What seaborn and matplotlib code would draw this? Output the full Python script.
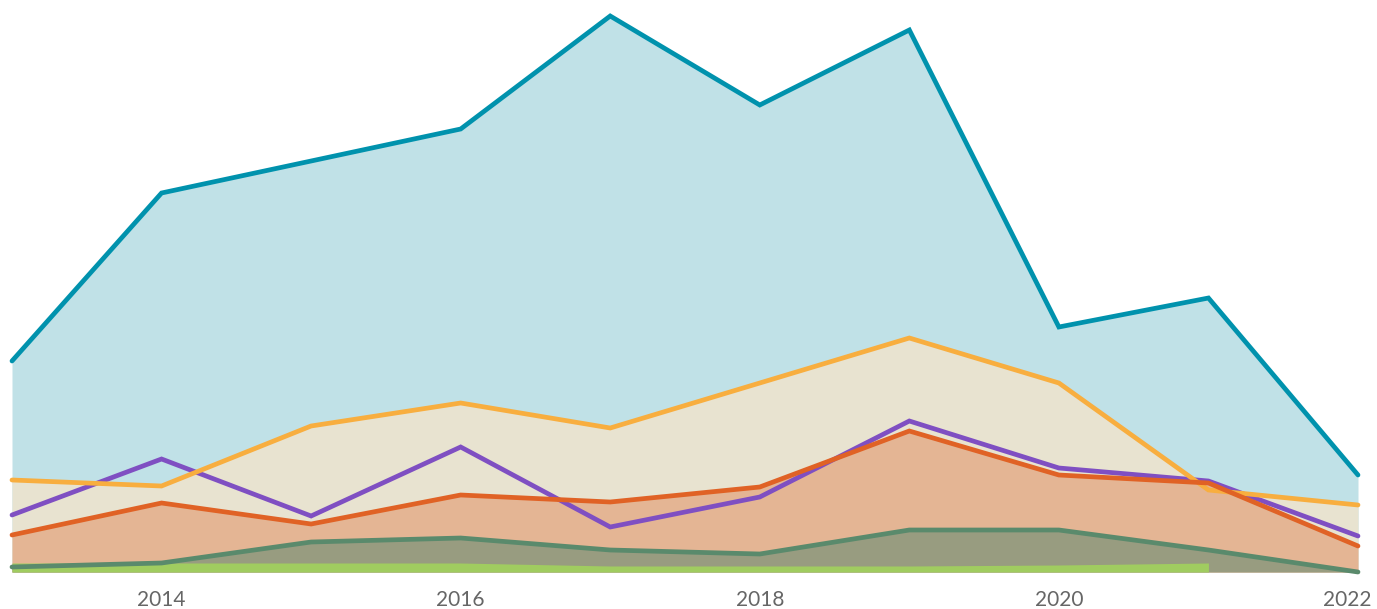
import matplotlib
matplotlib.use("Agg")
import matplotlib.pyplot as plt
import matplotlib.transforms as mtransforms
import seaborn as sns
import pandas as pd

years = [2013, 2014, 2015, 2016, 2017, 2018, 2019, 2020, 2021, 2022]
tick_years = [2014, 2016, 2018, 2020, 2022]

# values (arbitrary units, baseline 0)
teal = [211, 379, 411, 443, 556, 467, 542, 245, 274, 97]
orange = [92, 86, 146, 169, 144, 189, 234, 189, 82, 67]
purple = [57, 113, 56, 125, 45, 75, 151, 104, 91, 36]
red = [37, 69, 48, 77, 70, 85, 141, 97, 89, 26]
dark_green = [5, 9, 30, 34, 22, 18, 42, 42, 22, 0]
light_green_years = [2013, 2014, 2015, 2016, 2017, 2018, 2019, 2020, 2021]
light_green = [9, 9, 9, 9, 6, 6, 6, 7, 9]

# (values, line colour, fill colour or None)
series = [
    ("purple", purple, "#7f4fc2", None),
    ("teal", teal, "#0092ad", "#c0e1e7"),
    ("orange", orange, "#f8ae3f", "#e8e3d0"),
    ("red", red, "#e06225", "#e4b594"),
    ("dark_green", dark_green, "#5a8a6c", "#989c80"),
]

sns.set_theme(style="white")
plt.rcParams['font.family'] = ['Lato', 'DejaVu Sans']

fig = plt.figure(figsize=(13.77, 6.09), dpi=100)
ax = fig.add_axes([12 / 1377, 37 / 609, 1346 / 1377, 572 / 609])

# fills first, largest to smallest
for name, vals, lc, fc in series[1:]:
    ax.fill_between(years, 0, vals, color=fc, linewidth=0, zorder=1)
ax.fill_between(light_green_years, 0, light_green, color="#a0cc60", linewidth=0, zorder=1.5)

# lines on top
for i, (name, vals, lc, fc) in enumerate(series):
    df = pd.DataFrame({"year": years, "value": vals})
    sns.lineplot(data=df, x="year", y="value", color=lc, linewidth=3.4, ax=ax,
                 zorder=3 + i, solid_capstyle="round", solid_joinstyle="miter", clip_on=False)

ax.set_xlim(2013, 2022)
ax.set_ylim(0, 572)
ax.set_xticks(tick_years)
ax.set_xticklabels([str(y) for y in tick_years], fontsize=15, color="#666666")
ax.tick_params(axis="x", length=0, pad=13)
ax.set_yticks([])
ax.set_xlabel("")
ax.set_ylabel("")
for s in ax.spines.values():
    s.set_visible(False)
ax.set_facecolor("none")

# last label sits a bit left so it stays inside the picture
last = ax.get_xticklabels()[-1]
last.set_transform(last.get_transform() + mtransforms.ScaledTranslation(-0.11, 0, fig.dpi_scale_trans))

fig.savefig("out.png", dpi=100)
